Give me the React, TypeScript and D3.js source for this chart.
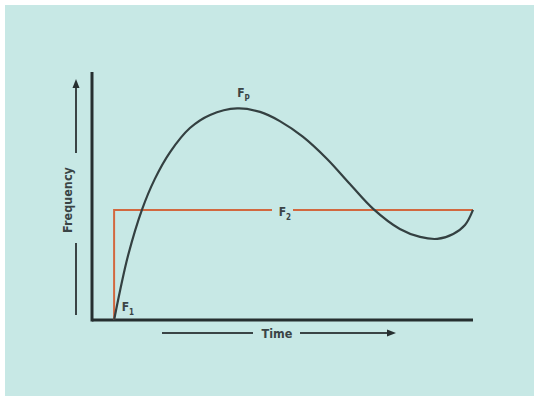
import React from "react";
import * as d3 from "d3";

// Frequency response curve F_P (time, frequency)
const curveTime = [0.58, 0.74, 0.95, 1.31, 1.65, 2.05, 2.57, 3.1, 3.81, 4.41, 4.93, 5.54, 6.17, 6.77, 7.38, 8.08, 8.61, 9.06, 9.48, 9.79, 10.0];
const curveFreq = [0.0, 1.21, 2.62, 4.44, 5.69, 6.77, 7.74, 8.27, 8.53, 8.39, 8.02, 7.38, 6.49, 5.48, 4.48, 3.67, 3.35, 3.27, 3.47, 3.83, 4.44];

// Step F1 -> F2
const stepTime = [0.58, 0.58, 10.0];
const stepFreq = [0.0, 4.44, 4.44];

const labels = ["Frequency", "Time"];
const curveLabels = [
  { main: "F", sub: "P", t: 3.81, f: 9.0 },
  { main: "F", sub: "2", t: 4.9, f: 4.2 },
  { main: "F", sub: "1", t: 0.78, f: 0.38 },
];

const W = 534;
const H = 398;

export default function App() {
  const x = d3.scaleLinear().domain([0, 10]).range([92, 473]);
  const y = d3.scaleLinear().domain([0, 10]).range([320, 72]);

  const curvePts: [number, number][] = curveTime.map((t, i) => [x(t), y(curveFreq[i])]);
  const stepPts: [number, number][] = stepTime.map((t, i) => [x(t), y(stepFreq[i])]);

  const smooth = d3.line().curve(d3.curveCatmullRom.alpha(0.5));
  const straight = d3.line();

  const bg = "#c7e8e5";
  const ink = "#262f30";
  const curveInk = "#344041";
  const txt = "#3a4445";
  const orange = "#d2683f";
  const font = "'DejaVu Sans Condensed', 'Liberation Sans Narrow', sans-serif";

  const [x0] = x.range();
  const [y0] = y.range();
  const yTop = y.range()[1];

  // y-axis arrow geometry
  const ya = x0 - 16;
  const yMid = (y0 + yTop) / 2 + 4;
  // x-axis arrow geometry
  const xa = y0 + 13;
  const xMid = 277;

  return (
    <div style={{ position: "fixed", left: 0, top: 0 }}>
      <svg width={W} height={H} style={{ display: "block" }}>
        <rect x={0} y={0} width={W} height={H} fill="#ffffff" />
        <rect x={5} y={5} width={W - 5} height={H - 7} fill={bg} />

        {/* axes */}
        <line x1={x0} y1={yTop} x2={x0} y2={y0 + 1.5} stroke={ink} strokeWidth={3} />
        <line x1={x0} y1={y0} x2={x(10)} y2={y0} stroke={ink} strokeWidth={3} />

        {/* y direction arrow */}
        <line x1={ya} y1={y0 - 5} x2={ya} y2={yMid + 43} stroke={txt} strokeWidth={2} />
        <line x1={ya} y1={yMid - 47} x2={ya} y2={yTop + 14} stroke={txt} strokeWidth={2} />
        <polygon points={`${ya},${yTop + 7} ${ya - 3.5},${yTop + 16} ${ya + 3.5},${yTop + 16}`} fill={ink} />
        <text
          x={0}
          y={0}
          transform={`translate(${ya - 4},${yMid}) rotate(-90)`}
          textAnchor="middle"
          fontFamily={font}
          fontWeight="bold"
          fontSize={12.5}
          fill={txt}
        >
          {labels[0]}
        </text>

        {/* x direction arrow */}
        <line x1={162} y1={xa} x2={253} y2={xa} stroke={txt} strokeWidth={2} />
        <line x1={300} y1={xa} x2={388} y2={xa} stroke={txt} strokeWidth={2} />
        <polygon points={`${396},${xa} ${387},${xa - 3.5} ${387},${xa + 3.5}`} fill={ink} />
        <text
          x={xMid}
          y={xa + 5}
          textAnchor="middle"
          fontFamily={font}
          fontWeight="bold"
          fontSize={12.5}
          fill={txt}
        >
          {labels[1]}
        </text>

        {/* F1 -> F2 step */}
        <path d={straight(stepPts) || ""} fill="none" stroke={orange} strokeWidth={2} />
        <rect x={272} y={y(4.44) - 3} width={21} height={6} fill={bg} />

        {/* F_P curve */}
        <path d={smooth(curvePts) || ""} fill="none" stroke={curveInk} strokeWidth={2.2} />

        {curveLabels.map((l, i) => (
          <text
            key={i}
            x={x(l.t)}
            y={y(l.f)}
            fontFamily={font}
            fontWeight="bold"
            fontSize={12}
            fill={txt}
          >
            {l.main}
            <tspan fontSize={8} dy={4}>
              {l.sub}
            </tspan>
          </text>
        ))}
      </svg>
    </div>
  );
}
